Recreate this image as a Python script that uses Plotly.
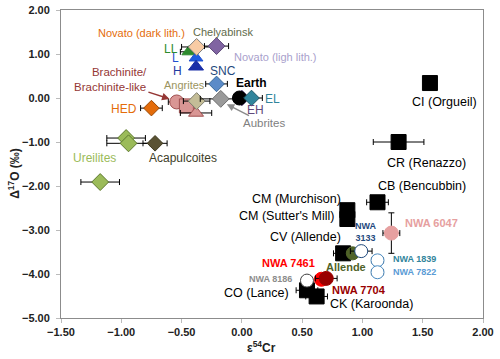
import plotly.graph_objects as go

# ---- data ----
names = ["LL", "L", "H", "Novato (dark lith.)", "Novato (light lith.)", "SNC",
         "Brachinite", "Brachinite-like sq", "Brachinite-like tri", "Angrites", "Aubrites",
         "EH", "Earth", "EL", "HED", "Ureilites a", "Ureilites b", "Acapulcoites", "Ureilites c",
         "CI (Orgueil)", "CR (Renazzo)", "CB (Bencubbin)", "CM (Murchison)", "CM (Sutter's Mill)",
         "NWA 6047", "CV (Allende)", "Allende", "NWA 3133", "NWA 1839", "NWA 7822",
         "CO (Lance)", "CK (Karoonda)", "NWA 8186", "NWA 7461", "NWA 7704"]
eps54Cr = [-0.44, -0.38, -0.38, -0.375, -0.21, -0.21,
           -0.54, -0.46, -0.38, -0.375, -0.175,
           0.00, -0.02, 0.08, -0.75, -0.96, -0.94, -0.72, -1.175,
           1.56, 1.30, 1.125, 0.875, 0.875,
           1.24, 0.84, 0.92, 0.99, 1.125, 1.125,
           0.54, 0.62, 0.54, 0.66, 0.70]
d17O = [1.05, 0.91, 0.71, 1.16, 1.18, 0.32,
        -0.09, -0.18, -0.34, -0.07, -0.02,
        0.00, 0.00, 0.00, -0.23, -0.91, -1.03, -1.03, -1.91,
        0.34, -1.00, -2.37, -2.55, -2.75,
        -3.07, -3.53, -3.53, -3.48, -3.69, -3.96,
        -4.37, -4.51, -4.15, -4.12, -4.10]
err_x = [0.07, 0.0, 0.0, 0.125, 0.10, 0.09,
         0.07, 0.05, 0.13, 0.11, 0.17,
         0.0, 0.0, 0.09, 0.09, 0.16, 0.18, 0.10, 0.16,
         0.03, 0.21, 0.09, 0.0, 0.0,
         0.07, 0.08, 0.0, 0.09, 0.05, 0.05,
         0.09, 0.09, 0.0, 0.0, 0.09]
err_y = [0.0] * 24 + [0.46] + [0.0] * 10

# ---- styles: (symbol, size, fill, outline) ----
style = {
    "LL": ("triangle-up", 12, "#2E8B2E", "#2E8B2E"),
    "L": ("triangle-up", 12, "#1F5BE0", "#1F4FD0"),
    "H": ("triangle-up", 13, "#1A2FA8", "#1A2FA8"),
    "Novato (dark lith.)": ("diamond", 13, "#F8CBA4", "#7F7F7F"),
    "Novato (light lith.)": ("diamond", 13, "#8064A2", "#5F4B7A"),
    "SNC": ("diamond", 12, "#5B8BC8", "#3A6A9A"),
    "Brachinite": ("circle", 14, "#D99694", "#A05050"),
    "Brachinite-like sq": ("square", 14, "#D99694", "#A05050"),
    "Brachinite-like tri": ("triangle-up", 13, "#D99694", "#A05050"),
    "Angrites": ("diamond", 13, "#C4BD97", "#7F7F6F"),
    "Aubrites": ("diamond", 13, "#9A9A9A", "#6F6F6F"),
    "EH": ("diamond", 12, "#604A7B", "#604A7B"),
    "Earth": ("circle", 14, "#000000", "#000000"),
    "EL": ("diamond", 12, "#31859C", "#215868"),
    "HED": ("diamond", 12, "#E46C0A", "#9A4A08"),
    "Ureilites a": ("diamond", 13, "#9BBB59", "#5F7A30"),
    "Ureilites b": ("diamond", 13, "#9BBB59", "#5F7A30"),
    "Acapulcoites": ("diamond", 12, "#5A5233", "#3F3A20"),
    "Ureilites c": ("diamond", 13, "#9BBB59", "#5F7A30"),
    "CI (Orgueil)": ("square", 15, "#000000", "#000000"),
    "CR (Renazzo)": ("square", 15, "#000000", "#000000"),
    "CB (Bencubbin)": ("square", 15, "#000000", "#000000"),
    "CM (Murchison)": ("square", 15, "#000000", "#000000"),
    "CM (Sutter's Mill)": ("square", 15, "#000000", "#000000"),
    "NWA 6047": ("circle", 14, "#E6A0A0", "#E6A0A0"),
    "CV (Allende)": ("square", 15, "#000000", "#000000"),
    "Allende": ("circle", 13, "#4F6228", "#4F6228"),
    "NWA 3133": ("circle", 13, "#FFFFFF", "#1F497D"),
    "NWA 1839": ("circle", 13, "#FFFFFF", "#4A8AC0"),
    "NWA 7822": ("circle", 13, "#FFFFFF", "#4A8AC0"),
    "CO (Lance)": ("square", 15, "#000000", "#000000"),
    "CK (Karoonda)": ("square", 15, "#000000", "#000000"),
    "NWA 8186": ("circle", 13, "#FFFFFF", "#404040"),
    "NWA 7461": ("circle", 14, "#FF0000", "#FF0000"),
    "NWA 7704": ("circle", 14, "#990000", "#990000"),
}

# labels: text, x, y, color, size, bold
label_text = ["Novato (dark lith.)", "Chelyabinsk", "LL", "L", "H", "Novato (ligh lith.)", "SNC",
              "Earth", "EL", "EH", "Angrites", "HED", "Ureilites", "Acapulcoites",
              "CI (Orgueil)", "CR (Renazzo)", "CB (Bencubbin)", "CM (Murchison)",
              "CM (Sutter's Mill)", "CV (Allende)", "NWA<br>3133", "NWA 6047", "NWA 1839",
              "NWA 7822", "Allende", "NWA 7461", "NWA 8186", "NWA 7704", "CO (Lance)",
              "CK (Karoonda)"]
label_x = [-0.83, -0.16, -0.59, -0.55, -0.53, 0.275, -0.16,
           0.08, 0.25, 0.11, -0.475, -0.975, -1.225, -0.49,
           1.68, 1.53, 1.49, 0.45,
           0.37, 0.525, 1.025, 1.575, 1.43,
           1.43, 0.86, 0.39, 0.24, 0.975, 0.12,
           1.075]
label_y = [1.48, 1.50, 1.12, 0.91, 0.62, 0.93, 0.62,
           0.34, -0.02, -0.27, 0.30, -0.25, -1.37, -1.37,
           -0.09, -1.48, -2.0, -2.30,
           -2.69, -3.17, -3.05, -2.85, -3.67,
           -3.96, -3.83, -3.76, -4.12, -4.37, -4.44,
           -4.69]
label_style = [("#E46C0A", 11, False), ("#5F6B4B", 11, False), ("#2E8B2E", 12, False),
               ("#1F4FD0", 12, False), ("#1F3AA0", 12, False), ("#A99FCC", 11, False),
               ("#1F497D", 12, False), ("#000000", 12, True), ("#31859C", 12, False),
               ("#604A7B", 12, False), ("#9C9460", 11, False), ("#E46C0A", 12, False),
               ("#9BBB59", 12, False), ("#3F3F2A", 12, False),
               ("#000000", 12.5, False), ("#000000", 12.5, False), ("#000000", 12.5, False),
               ("#000000", 12.5, False), ("#000000", 12.5, False), ("#000000", 12.5, False),
               ("#1F497D", 9, True), ("#E6A0A0", 11, True), ("#31859C", 9, True),
               ("#5B9BD5", 9, True), ("#4F6228", 11, True), ("#FF0000", 11, True),
               ("#8C8C8C", 9, True), ("#990000", 11, True), ("#000000", 12.5, False),
               ("#000000", 12.5, False)]

x_ticks = [-1.5, -1.0, -0.5, 0.0, 0.5, 1.0, 1.5, 2.0]
y_ticks = [-5, -4, -3, -2, -1, 0, 1, 2]

FONT = "Liberation Sans, Arial, sans-serif"

fig = go.Figure()
for n, xv, yv, ex, ey in zip(names, eps54Cr, d17O, err_x, err_y):
    sym, sz, fill, line = style[n]
    fig.add_trace(go.Scatter(
        x=[xv], y=[yv], mode="markers", name=n, showlegend=False, hoverinfo="skip",
        marker=dict(symbol=sym, size=sz, color=fill, line=dict(color=line, width=1)),
        error_x=dict(type="constant", value=ex, visible=ex > 0, color="black", thickness=1, width=3),
        error_y=dict(type="constant", value=ey, visible=ey > 0, color="black", thickness=1, width=3),
    ))

for t, xv, yv, (c, s, b) in zip(label_text, label_x, label_y, label_style):
    fig.add_annotation(x=xv, y=yv, text=t, showarrow=False,
                       font=dict(family=FONT, size=s, color=c, weight="bold" if b else "normal"),
                       align="center")

# Brachinite label with arrow (arrow runs from the label box to the target)
fig.add_annotation(x=-0.6, y=-0.02, ax=-1.09, ay=0.41, axref="x", ayref="y",
                   text="Brachinite/<br>Brachinite-like", showarrow=True, arrowhead=2,
                   arrowsize=1, arrowwidth=1.5, arrowcolor="#953735", align="right",
                   font=dict(family=FONT, size=11.5, color="#953735"))
# Aubrites label with arrow
fig.add_annotation(x=-0.125, y=-0.14, ax=0.18, ay=-0.57, axref="x", ayref="y",
                   text="Aubrites", showarrow=True, arrowhead=2, arrowsize=1,
                   arrowwidth=1.5, arrowcolor="#8C8C8C",
                   font=dict(family=FONT, size=11.5, color="#808080"))

# axis titles
fig.add_annotation(xref="paper", yref="paper", x=-0.11, xanchor="center", y=0.47,
                   text="Δ<sup>17</sup>O (‰)", textangle=-90, showarrow=False,
                   font=dict(family=FONT, size=12, color="#222", weight="bold"))
fig.add_annotation(xref="paper", yref="paper", x=0.475, y=-0.095, yanchor="middle",
                   text="ε<sup>54</sup>Cr", showarrow=False,
                   font=dict(family=FONT, size=12, color="#222", weight="bold"))

axis_common = dict(showline=True, linecolor="#8C8C8C", linewidth=1, mirror=True,
                   showgrid=False, zeroline=False, ticks="outside", ticklen=4,
                   tickcolor="#BBBBBB", tickformat=".2f", automargin=False,
                   tickfont=dict(family=FONT, size=11, color="#222", weight="bold"))
fig.update_xaxes(range=[-1.5, 2.0], tickvals=x_ticks, **axis_common)
fig.update_yaxes(range=[-5, 2], tickvals=y_ticks, ticklabelstandoff=4, **axis_common)

fig.update_layout(width=500, height=359, margin=dict(l=61, r=17, t=10, b=41),
                  plot_bgcolor="white", paper_bgcolor="white", template="none",
                  font=dict(family=FONT), hovermode=False)

fig.write_html("out.html", config={"displayModeBar": False},
               post_script="document.body.style.margin='0';document.body.style.overflow='hidden';")
